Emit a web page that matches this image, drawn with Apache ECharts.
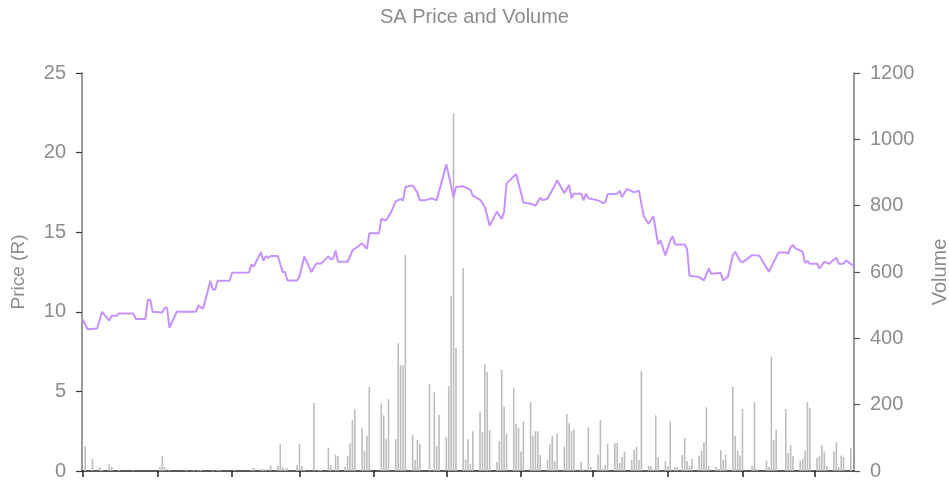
<!DOCTYPE html>
<html>
<head>
<meta charset="utf-8">
<script src="https://cdn.jsdelivr.net/npm/echarts@6/dist/echarts.min.js"></script>
<style>
  html, body { margin: 0; padding: 0; background: #fff; }
  #chart { width: 949px; height: 484px; }
</style>
</head>
<body>
<div id="chart"></div>
<script>
// price line (vertices)
const priceDates = [
  '2018-12-01', '2018-12-03', '2018-12-07', '2018-12-09', '2018-12-12', '2018-12-13', '2018-12-15', '2018-12-16',
  '2018-12-22', '2018-12-23', '2018-12-27', '2018-12-28', '2018-12-29', '2018-12-30',
  '2019-01-03', '2019-01-04', '2019-01-05', '2019-01-06', '2019-01-09', '2019-01-17', '2019-01-18', '2019-01-20',
  '2019-01-23', '2019-01-24', '2019-01-25', '2019-01-26', '2019-01-31',
  '2019-02-01', '2019-02-08', '2019-02-09', '2019-02-10', '2019-02-13', '2019-02-14', '2019-02-15', '2019-02-16',
  '2019-02-17', '2019-02-20', '2019-02-22', '2019-02-23', '2019-02-24', '2019-02-28',
  '2019-03-01', '2019-03-03', '2019-03-06', '2019-03-08', '2019-03-10', '2019-03-13', '2019-03-14', '2019-03-15',
  '2019-03-16', '2019-03-17', '2019-03-21', '2019-03-23', '2019-03-27', '2019-03-29', '2019-03-30',
  '2019-04-03', '2019-04-04', '2019-04-06', '2019-04-08', '2019-04-10', '2019-04-12', '2019-04-13', '2019-04-14',
  '2019-04-17', '2019-04-19', '2019-04-20', '2019-04-22', '2019-04-25', '2019-04-27',
  '2019-05-01', '2019-05-03', '2019-05-04', '2019-05-05', '2019-05-08', '2019-05-11', '2019-05-12', '2019-05-15',
  '2019-05-17', '2019-05-19', '2019-05-22', '2019-05-24', '2019-05-25', '2019-05-26', '2019-05-30',
  '2019-06-01', '2019-06-02', '2019-06-05', '2019-06-07', '2019-06-09', '2019-06-10', '2019-06-12', '2019-06-15',
  '2019-06-16', '2019-06-19', '2019-06-21', '2019-06-22', '2019-06-23', '2019-06-26', '2019-06-27', '2019-06-28',
  '2019-06-29',
  '2019-07-03', '2019-07-05', '2019-07-06', '2019-07-07', '2019-07-11', '2019-07-12', '2019-07-13', '2019-07-15',
  '2019-07-18', '2019-07-20', '2019-07-22', '2019-07-24', '2019-07-26', '2019-07-28', '2019-07-29', '2019-07-31',
  '2019-08-02', '2019-08-03', '2019-08-04', '2019-08-08', '2019-08-09', '2019-08-10', '2019-08-14', '2019-08-16',
  '2019-08-18', '2019-08-19', '2019-08-23', '2019-08-24', '2019-08-26', '2019-08-28', '2019-08-29', '2019-08-31',
  '2019-09-01', '2019-09-05', '2019-09-08', '2019-09-12', '2019-09-16', '2019-09-19', '2019-09-20', '2019-09-21',
  '2019-09-22', '2019-09-23', '2019-09-26', '2019-09-27', '2019-09-28', '2019-09-29',
  '2019-10-02', '2019-10-03', '2019-10-05', '2019-10-07', '2019-10-10', '2019-10-11', '2019-10-13', '2019-10-14',
  '2019-10-17'
]
const priceValues = [
  9.5, 8.9, 8.95, 10.0, 9.45, 9.75, 9.75, 9.9,
  9.9, 9.55, 9.55, 10.75, 10.75, 10.0,
  9.95, 10.25, 10.25, 9.0, 10.0, 10.0, 10.4, 10.2,
  11.95, 11.4, 11.4, 11.95, 11.95,
  12.45, 12.47, 12.97, 12.85, 13.75, 13.2, 13.5, 13.38,
  13.5, 13.5, 12.5, 12.5, 11.97, 11.97,
  12.22, 13.48, 12.5, 13.04, 13.04, 13.48, 13.3, 13.35,
  13.85, 13.14, 13.14, 13.85, 14.3, 13.96, 14.93,
  14.93, 15.83, 15.74, 16.25, 16.94, 17.09, 16.98, 17.84,
  17.94, 17.5, 17.0, 17.0, 17.13, 17.0,
  19.26, 17.92, 17.2, 17.84, 17.88, 17.67, 17.3, 17.04,
  16.58, 15.4, 16.29, 15.83, 16.29, 18.05, 18.66,
  17.5, 16.87, 16.79, 16.67, 17.17, 17.0, 17.1, 17.92,
  18.26, 17.46, 17.97, 17.13, 17.42, 17.42, 17.0, 17.42,
  17.13,
  17.0, 16.84, 16.86, 17.38, 17.42, 17.59, 17.21, 17.72,
  17.5, 17.61, 16.0, 15.53, 16.0, 14.23, 14.48, 13.54,
  14.48, 14.74, 14.23, 14.23, 13.94, 12.26, 12.18, 11.97,
  12.72, 12.39, 12.43, 11.97, 12.22, 13.56, 13.77, 13.19,
  13.1, 13.56, 13.52, 12.52, 13.73, 13.73, 13.65, 14.07,
  14.19, 13.98, 13.77, 13.06, 13.19, 13.02,
  13.02, 12.72, 13.14, 13.02, 13.4, 13.02, 13.02, 13.23,
  12.89
]

// volume bars
const volumeDates = [
  '2018-12-02', '2018-12-05', '2018-12-08', '2018-12-09', '2018-12-12', '2018-12-13', '2018-12-16', '2018-12-22',
  '2019-01-02', '2019-01-03', '2019-01-04', '2019-01-06', '2019-01-13', '2019-01-16', '2019-01-18', '2019-01-19',
  '2019-01-24', '2019-01-26', '2019-01-27',
  '2019-02-02', '2019-02-09', '2019-02-10', '2019-02-13', '2019-02-14', '2019-02-15', '2019-02-17', '2019-02-20',
  '2019-02-21', '2019-02-22', '2019-02-23', '2019-02-24', '2019-02-28',
  '2019-03-01', '2019-03-02', '2019-03-03', '2019-03-07', '2019-03-09', '2019-03-10', '2019-03-13', '2019-03-14',
  '2019-03-16', '2019-03-17', '2019-03-20', '2019-03-21', '2019-03-22', '2019-03-23', '2019-03-24', '2019-03-27',
  '2019-03-28', '2019-03-29', '2019-03-30',
  '2019-04-04', '2019-04-05', '2019-04-06', '2019-04-07', '2019-04-10', '2019-04-11', '2019-04-12', '2019-04-13',
  '2019-04-14', '2019-04-17', '2019-04-18', '2019-04-19', '2019-04-20', '2019-04-24', '2019-04-26', '2019-04-27',
  '2019-04-28',
  '2019-05-01', '2019-05-02', '2019-05-03', '2019-05-04', '2019-05-05', '2019-05-08', '2019-05-09', '2019-05-10',
  '2019-05-11', '2019-05-12', '2019-05-15', '2019-05-16', '2019-05-17', '2019-05-18', '2019-05-19', '2019-05-22',
  '2019-05-23', '2019-05-24', '2019-05-25', '2019-05-26', '2019-05-29', '2019-05-30', '2019-05-31',
  '2019-06-01', '2019-06-02', '2019-06-05', '2019-06-06', '2019-06-07', '2019-06-08', '2019-06-09', '2019-06-12',
  '2019-06-13', '2019-06-14', '2019-06-15', '2019-06-16', '2019-06-19', '2019-06-20', '2019-06-21', '2019-06-22',
  '2019-06-23', '2019-06-26', '2019-06-27', '2019-06-29', '2019-06-30',
  '2019-07-03', '2019-07-04', '2019-07-05', '2019-07-06', '2019-07-07', '2019-07-10', '2019-07-11', '2019-07-12',
  '2019-07-13', '2019-07-14', '2019-07-17', '2019-07-18', '2019-07-19', '2019-07-20', '2019-07-21', '2019-07-24',
  '2019-07-25', '2019-07-26', '2019-07-27', '2019-07-28', '2019-07-31',
  '2019-08-01', '2019-08-02', '2019-08-04', '2019-08-05', '2019-08-07', '2019-08-08', '2019-08-09', '2019-08-10',
  '2019-08-11', '2019-08-14', '2019-08-15', '2019-08-16', '2019-08-17', '2019-08-18', '2019-08-21', '2019-08-22',
  '2019-08-23', '2019-08-24', '2019-08-25', '2019-08-28', '2019-08-29', '2019-08-30', '2019-08-31',
  '2019-09-01', '2019-09-05', '2019-09-06', '2019-09-07', '2019-09-11', '2019-09-12', '2019-09-13', '2019-09-14',
  '2019-09-15', '2019-09-19', '2019-09-20', '2019-09-21', '2019-09-22', '2019-09-25', '2019-09-26', '2019-09-27',
  '2019-09-28', '2019-09-29',
  '2019-10-02', '2019-10-03', '2019-10-04', '2019-10-05', '2019-10-06', '2019-10-09', '2019-10-10', '2019-10-11',
  '2019-10-12', '2019-10-13', '2019-10-16'
]
const volumeValues = [
  75, 36, 12, 3, 20, 12, 3, 3,
  12, 45, 12, 3, 5, 4, 2, 4,
  3, 4, 4,
  5, 4, 9, 6, 5, 5, 17, 17,
  81, 12, 5, 9, 17,
  81, 15, 3, 205, 3, 3, 70, 17,
  49, 45, 12, 45, 84, 154, 186, 130,
  61, 106, 253,
  204, 168, 96, 216, 96, 385, 319, 317,
  651, 108, 33, 94, 81, 262, 237, 75,
  169,
  102, 256, 528, 1079, 371, 611, 35, 96,
  21, 120, 177, 118, 322, 298, 124, 27,
  91, 305, 194, 112, 250, 142, 130,
  59, 150, 208, 106, 120, 120, 48, 33,
  81, 106, 29, 112, 73, 172, 144, 120,
  126, 27, 5, 132, 12,
  49, 154, 5, 18, 81, 84, 84, 24,
  42, 59, 33, 63, 73, 33, 301, 15,
  15, 5, 168, 42, 30,
  15, 150, 12, 12, 48, 100, 30, 15,
  36, 46, 61, 87, 192, 15, 12, 6,
  63, 33, 50, 253, 106, 62, 47,
  187, 15, 208, 6, 31, 12, 345, 94,
  124, 187, 54, 78, 45, 31, 37, 62,
  208, 190,
  39, 45, 78, 59, 15, 59, 87, 12,
  47, 42, 69
]

// month-start ticks on the date axis
const tickDates = [
  '2018-12-01', '2019-01-01', '2019-02-01', '2019-03-01', '2019-04-01', '2019-05-01',
  '2019-06-01', '2019-07-01', '2019-08-01', '2019-09-01', '2019-10-01'
]
const axisStart = '2018-12-01'
const axisEnd = '2019-10-17'

function toTime(s) {
  const p = s.split('-').map(Number)
  return new Date(p[0], p[1] - 1, p[2]).getTime()
}

const grey = '#8c8c8c'

const chart = echarts.init(document.getElementById('chart'))

chart.setOption({
  animation: false,
  title: {
    text: 'SA Price and Volume',
    left: 'center',
    top: 2,
    textStyle: {
      color: grey,
      fontSize: 20,
      fontWeight: 'normal',
      fontFamily: 'Liberation Sans'
    }
  },
  grid: {
    left: 82,
    right: 95,
    top: 73,
    bottom: 13,
    outerBoundsMode: 'none'
  },
  xAxis: {
    type: 'time',
    min: toTime(axisStart),
    max: toTime(axisEnd),
    axisLine: { lineStyle: { color: '#222', width: 1.5 } },
    axisTick: {
      customValues: tickDates.map(toTime),
      length: 6,
      lineStyle: { color: '#222', width: 1.5 }
    },
    axisLabel: { show: false },
    splitLine: { show: false }
  },
  yAxis: [
    {
      type: 'value',
      min: 0,
      max: 25,
      interval: 5,
      name: 'Price (R)',
      nameLocation: 'middle',
      nameGap: 54,
      nameTextStyle: { color: grey, fontSize: 19, fontFamily: 'Liberation Sans' },
      axisLine: { show: true, lineStyle: { color: '#7a7a7a', width: 1.5 } },
      axisTick: { show: true, length: 6, lineStyle: { color: '#333', width: 1.2 } },
      axisLabel: { color: grey, fontSize: 20, margin: 16, fontFamily: 'Liberation Sans' },
      splitLine: { show: false }
    },
    {
      type: 'value',
      min: 0,
      max: 1200,
      interval: 200,
      name: 'Volume',
      nameLocation: 'middle',
      nameGap: 76,
      nameTextStyle: { color: grey, fontSize: 20, fontFamily: 'Liberation Sans' },
      axisLine: { show: true, lineStyle: { color: '#7a7a7a', width: 1.5 } },
      axisTick: { show: true, length: 6, lineStyle: { color: '#555', width: 1.2 } },
      axisLabel: {
        color: grey,
        fontSize: 20,
        margin: 16,
        fontFamily: 'Liberation Sans',
        formatter: v => String(v)
      },
      splitLine: { show: false }
    }
  ],
  series: [
    {
      name: 'Volume',
      type: 'bar',
      yAxisIndex: 1,
      barWidth: 1.6,
      itemStyle: { color: '#bdbdbd' },
      data: volumeDates.map((d, i) => [toTime(d), volumeValues[i]]),
      z: 1
    },
    {
      name: 'Price',
      type: 'line',
      yAxisIndex: 0,
      showSymbol: false,
      lineStyle: { color: '#c592ff', width: 2 },
      itemStyle: { color: '#c592ff' },
      data: priceDates.map((d, i) => [toTime(d), priceValues[i]]),
      z: 3
    }
  ]
})
</script>
</body>
</html>
